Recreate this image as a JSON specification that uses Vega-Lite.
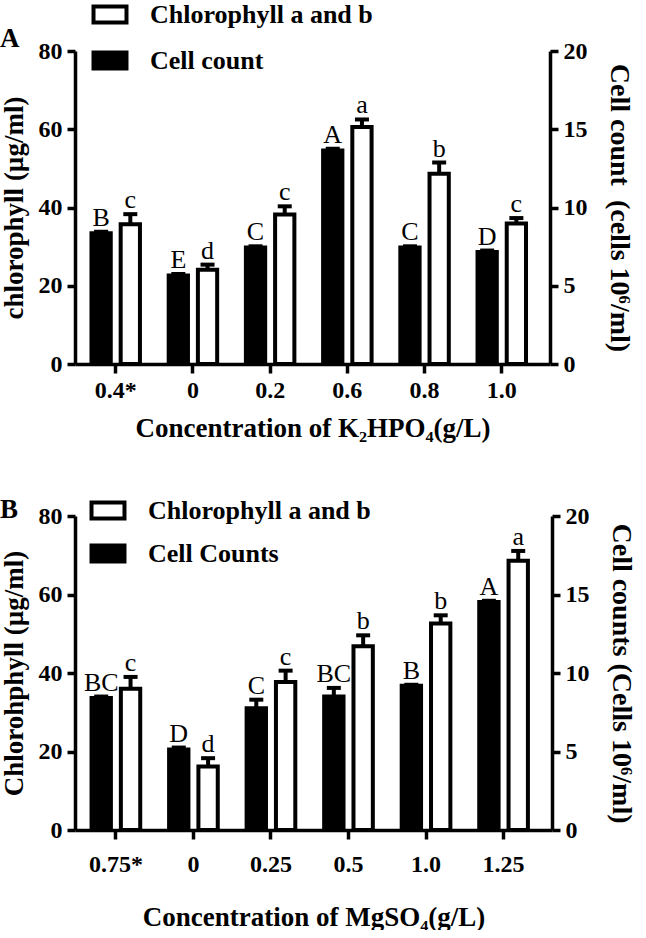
{
  "$schema": "https://vega.github.io/schema/vega-lite/v6.json",
  "background": "white",
  "padding": {"left": 0, "top": 1, "right": 2, "bottom": 0},
  "config": {
    "font": "Liberation Serif",
    "view": {"stroke": null},
    "axis": {
      "grid": false,
      "domainColor": "black",
      "domainWidth": 3.5,
      "tickColor": "black",
      "tickWidth": 3.5,
      "tickSize": 8,
      "labelFont": "Liberation Serif",
      "labelFontWeight": "bold",
      "labelFontSize": 24,
      "labelColor": "black",
      "labelPadding": 5,
      "titleFont": "Liberation Serif",
      "titleFontWeight": "bold",
      "titleFontSize": 27,
      "titleColor": "black"
    },
    "title": {"font": "Liberation Serif", "fontWeight": "bold", "fontSize": 27, "color": "black"}
  },
  "datasets": {
    "k2hpo4": [
      {"conc": "0.4*", "series": "Cell count", "value": 8.35, "upper": 8.45, "letter": "B"},
      {"conc": "0", "series": "Cell count", "value": 5.65, "upper": 5.75, "letter": "E"},
      {"conc": "0.2", "series": "Cell count", "value": 7.45, "upper": 7.52, "letter": "C"},
      {"conc": "0.6", "series": "Cell count", "value": 13.65, "upper": 13.75, "letter": "A"},
      {"conc": "0.8", "series": "Cell count", "value": 7.45, "upper": 7.52, "letter": "C"},
      {"conc": "1.0", "series": "Cell count", "value": 7.15, "upper": 7.25, "letter": "D"},
      {"conc": "0.4*", "series": "Chlorophyll a and b", "value": 35.7, "upper": 38.3, "letter": "c"},
      {"conc": "0", "series": "Chlorophyll a and b", "value": 24.1, "upper": 25.4, "letter": "d"},
      {"conc": "0.2", "series": "Chlorophyll a and b", "value": 38.2, "upper": 40.3, "letter": "c"},
      {"conc": "0.6", "series": "Chlorophyll a and b", "value": 60.6, "upper": 62.5, "letter": "a"},
      {"conc": "0.8", "series": "Chlorophyll a and b", "value": 48.6, "upper": 51.5, "letter": "b"},
      {"conc": "1.0", "series": "Chlorophyll a and b", "value": 35.9, "upper": 37.3, "letter": "c"}
    ],
    "mgso4": [
      {"conc": "0.75*", "series": "Cell Counts", "value": 8.4, "upper": 8.5, "letter": "BC"},
      {"conc": "0", "series": "Cell Counts", "value": 5.13, "upper": 5.25, "letter": "D"},
      {"conc": "0.25", "series": "Cell Counts", "value": 7.75, "upper": 8.3, "letter": "C"},
      {"conc": "0.5", "series": "Cell Counts", "value": 8.5, "upper": 9.05, "letter": "BC"},
      {"conc": "1.0", "series": "Cell Counts", "value": 9.18, "upper": 9.25, "letter": "B"},
      {"conc": "1.25", "series": "Cell Counts", "value": 14.53, "upper": 14.6, "letter": "A"},
      {"conc": "0.75*", "series": "Chlorophyll a and b", "value": 36.0, "upper": 39.0, "letter": "c"},
      {"conc": "0", "series": "Chlorophyll a and b", "value": 16.2, "upper": 18.3, "letter": "d"},
      {"conc": "0.25", "series": "Chlorophyll a and b", "value": 37.7, "upper": 40.6, "letter": "c"},
      {"conc": "0.5", "series": "Chlorophyll a and b", "value": 46.8, "upper": 49.6, "letter": "b"},
      {"conc": "1.0", "series": "Chlorophyll a and b", "value": 52.6, "upper": 54.7, "letter": "b"},
      {"conc": "1.25", "series": "Chlorophyll a and b", "value": 68.6, "upper": 71.1, "letter": "a"}
    ]
  },
  "spacing": 54,
  "resolve": {"scale": {"fill": "independent", "xOffset": "independent", "x": "independent"}, "legend": {"fill": "independent"}},
  "vconcat": [
    {
      "width": 475,
      "height": 313,
      "data": {"name": "k2hpo4"},
      "title": {"text": "A", "anchor": "start", "frame": "bounds", "fontSize": 27, "offset": 0, "dy": 51},
      "encoding": {
        "x": {
          "field": "conc", "type": "nominal", "sort": null,
          "scale": {"paddingInner": 0, "paddingOuter": 0.076, "align": 0.18},
          "axis": {"labelAngle": 0, "tickSize": 9, "labelPadding": 5, "titlePadding": 13, "title": "Concentration of K₂HPO₄(g/L)"}
        },
        "xOffset": {"field": "series", "type": "nominal", "scale": {"domain": ["Cell count", "Chlorophyll a and b"], "paddingInner": 0.34, "paddingOuter": 0.492}},
        "fill": {
          "field": "series", "type": "nominal",
          "scale": {"domain": ["Chlorophyll a and b", "Cell count"], "range": ["white", "black"]},
          "legend": {
            "orient": "none", "legendX": 22, "legendY": -49.5, "title": null, "padding": 0,
            "symbolType": "M-2,-0.97H2V0.97H-2Z", "symbolSize": 272,
            "symbolStrokeColor": "black", "symbolStrokeWidth": 4, "symbolOpacity": 1,
            "labelFont": "Liberation Serif", "labelFontWeight": "bold", "labelFontSize": 26, "labelColor": "black",
            "labelOffset": 27, "rowPadding": 14, "labelLimit": 0
          }
        }
      },
      "layer": [
        {
          "transform": [{"filter": "datum.series === 'Cell count'"}],
          "encoding": {
            "y": {"field": "value", "type": "quantitative", "scale": {"domain": [0, 20]},
              "axis": {"orient": "right", "values": [0, 5, 10, 15, 20], "title": "Cell count\u00a0\u00a0(cells 10⁶/ml)", "titlePadding": 17, "titleFontSize": 28}}
          },
          "layer": [
            {"mark": {"type": "bar", "stroke": "black", "strokeWidth": 4}},
            {"mark": {"type": "rule", "color": "black", "strokeWidth": 4}, "encoding": {"y2": {"field": "upper"}}},
            {"mark": {"type": "tick", "color": "black", "size": 14, "thickness": 4, "opacity": 1}, "encoding": {"y": {"field": "upper", "type": "quantitative"}, "fill": {"value": "black"}}},
            {"mark": {"type": "text", "baseline": "alphabetic", "dy": -6, "fontSize": 26, "font": "Liberation Serif", "color": "black"}, "encoding": {"y": {"field": "upper", "type": "quantitative"}, "text": {"field": "letter"}, "fill": {"value": "black"}}}
          ]
        },
        {
          "transform": [{"filter": "datum.series === 'Chlorophyll a and b'"}],
          "encoding": {
            "y": {"field": "value", "type": "quantitative", "scale": {"domain": [0, 80]},
              "axis": {"orient": "left", "values": [0, 20, 40, 60, 80], "title": "chlorophyll (µg/ml)", "titlePadding": 10}}
          },
          "layer": [
            {"mark": {"type": "bar", "stroke": "black", "strokeWidth": 4}},
            {"mark": {"type": "rule", "color": "black", "strokeWidth": 4}, "encoding": {"y2": {"field": "upper"}}},
            {"mark": {"type": "tick", "color": "black", "size": 14, "thickness": 4, "opacity": 1}, "encoding": {"y": {"field": "upper", "type": "quantitative"}, "fill": {"value": "black"}}},
            {"mark": {"type": "text", "baseline": "alphabetic", "dy": -6, "fontSize": 26, "font": "Liberation Serif", "color": "black"}, "encoding": {"y": {"field": "upper", "type": "quantitative"}, "text": {"field": "letter"}, "fill": {"value": "black"}}}
          ]
        }
      ],
      "resolve": {"scale": {"y": "independent"}}
    },
    {
      "width": 477,
      "height": 314,
      "data": {"name": "mgso4"},
      "title": {"text": "B", "anchor": "start", "frame": "bounds", "fontSize": 27, "offset": 0, "dy": 26},
      "encoding": {
        "x": {
          "field": "conc", "type": "nominal", "sort": null,
          "scale": {"paddingInner": 0, "paddingOuter": 0.076, "align": 0.18},
          "axis": {"labelAngle": 0, "tickSize": 9, "labelPadding": 13, "titlePadding": 28, "title": "Concentration of MgSO₄(g/L)"}
        },
        "xOffset": {"field": "series", "type": "nominal", "scale": {"domain": ["Cell Counts", "Chlorophyll a and b"], "paddingInner": 0.34, "paddingOuter": 0.492}},
        "fill": {
          "field": "series", "type": "nominal",
          "scale": {"domain": ["Chlorophyll a and b", "Cell Counts"], "range": ["white", "black"]},
          "legend": {
            "orient": "none", "legendX": 20, "legendY": -18.5, "title": null, "padding": 0,
            "symbolType": "M-2,-0.97H2V0.97H-2Z", "symbolSize": 272,
            "symbolStrokeColor": "black", "symbolStrokeWidth": 4, "symbolOpacity": 1,
            "labelFont": "Liberation Serif", "labelFontWeight": "bold", "labelFontSize": 26, "labelColor": "black",
            "labelOffset": 27, "rowPadding": 11, "labelLimit": 0
          }
        }
      },
      "layer": [
        {
          "transform": [{"filter": "datum.series === 'Cell Counts'"}],
          "encoding": {
            "y": {"field": "value", "type": "quantitative", "scale": {"domain": [0, 20]},
              "axis": {"orient": "right", "values": [0, 5, 10, 15, 20], "title": "Cell counts (Cells 10⁶/ml)", "titlePadding": 17, "titleFontSize": 28}}
          },
          "layer": [
            {"mark": {"type": "bar", "stroke": "black", "strokeWidth": 4}},
            {"mark": {"type": "rule", "color": "black", "strokeWidth": 4}, "encoding": {"y2": {"field": "upper"}}},
            {"mark": {"type": "tick", "color": "black", "size": 14, "thickness": 4, "opacity": 1}, "encoding": {"y": {"field": "upper", "type": "quantitative"}, "fill": {"value": "black"}}},
            {"mark": {"type": "text", "baseline": "alphabetic", "dy": -6, "fontSize": 26, "font": "Liberation Serif", "color": "black"}, "encoding": {"y": {"field": "upper", "type": "quantitative"}, "text": {"field": "letter"}, "fill": {"value": "black"}}}
          ]
        },
        {
          "transform": [{"filter": "datum.series === 'Chlorophyll a and b'"}],
          "encoding": {
            "y": {"field": "value", "type": "quantitative", "scale": {"domain": [0, 80]},
              "axis": {"orient": "left", "values": [0, 20, 40, 60, 80], "title": "Chlorohphyll (µg/ml)", "titlePadding": 10}}
          },
          "layer": [
            {"mark": {"type": "bar", "stroke": "black", "strokeWidth": 4}},
            {"mark": {"type": "rule", "color": "black", "strokeWidth": 4}, "encoding": {"y2": {"field": "upper"}}},
            {"mark": {"type": "tick", "color": "black", "size": 14, "thickness": 4, "opacity": 1}, "encoding": {"y": {"field": "upper", "type": "quantitative"}, "fill": {"value": "black"}}},
            {"mark": {"type": "text", "baseline": "alphabetic", "dy": -6, "fontSize": 26, "font": "Liberation Serif", "color": "black"}, "encoding": {"y": {"field": "upper", "type": "quantitative"}, "text": {"field": "letter"}, "fill": {"value": "black"}}}
          ]
        }
      ],
      "resolve": {"scale": {"y": "independent"}}
    }
  ]
}
